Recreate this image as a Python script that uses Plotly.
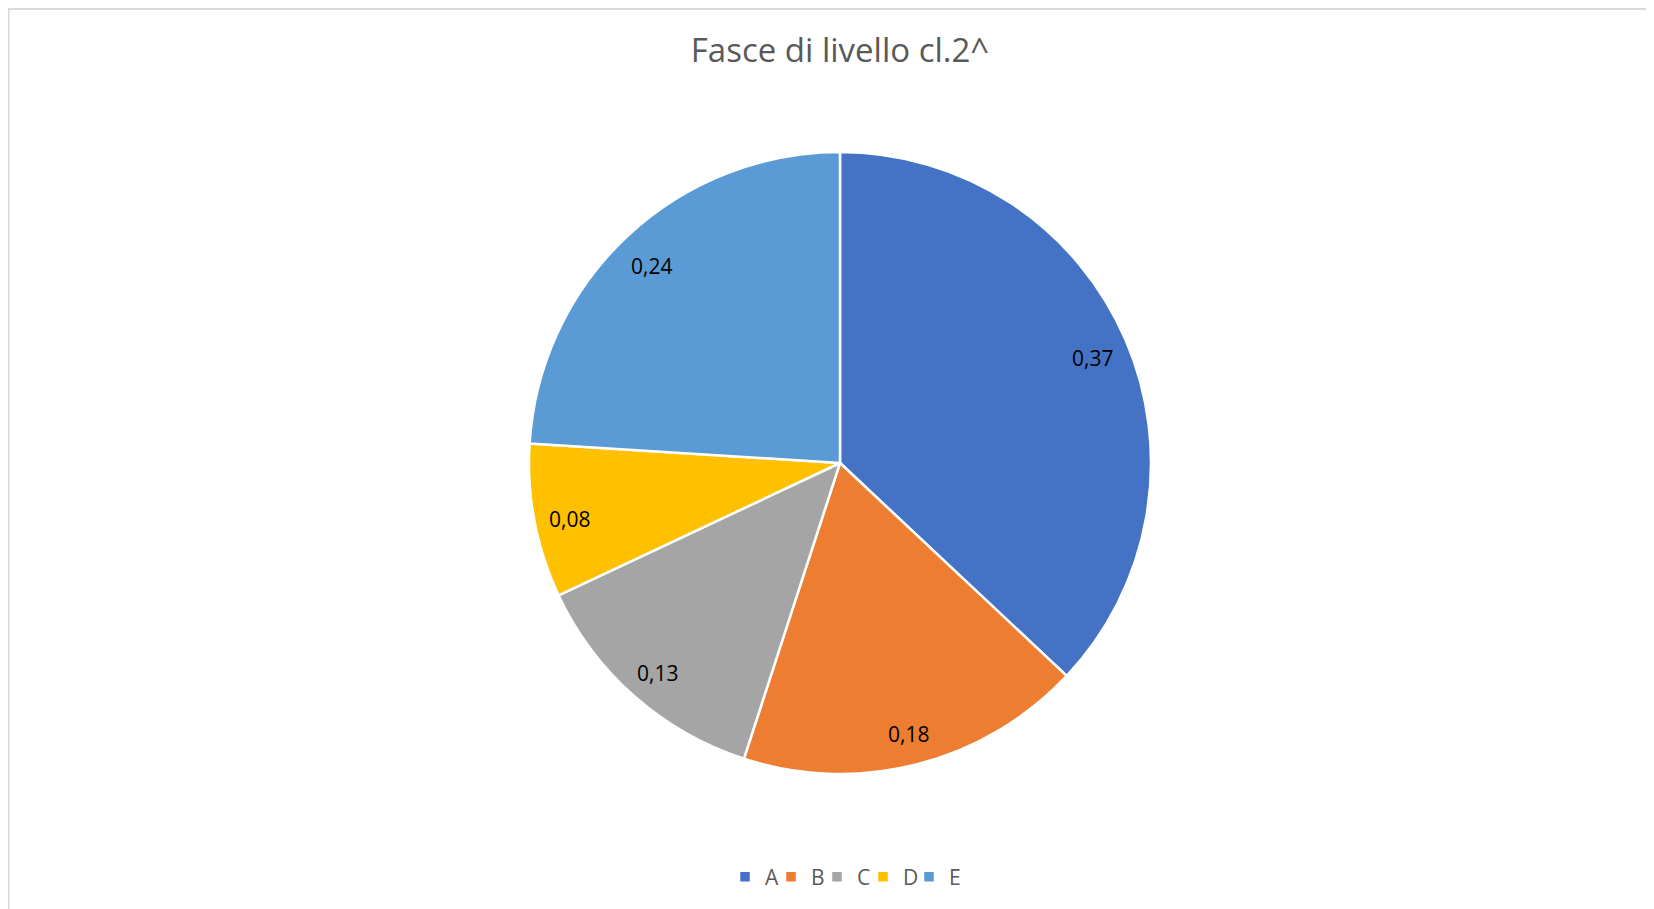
import numpy as np
import plotly.graph_objects as go

labels = ["A", "B", "C", "D", "E"]
values = [0.37, 0.18, 0.13, 0.08, 0.24]
value_text = ["0,37", "0,18", "0,13", "0,08", "0,24"]
colors = ["#4472C4", "#ED7D31", "#A5A5A5", "#FFC000", "#5B9BD5"]
title_text = "Fasce di livello cl.2^"

W, H = 1654, 909
OFF = 8  # page body margin in the browser
cx, cy, r = 840 - OFF, 463 - OFF, 311

fig = go.Figure()
fig.add_trace(go.Pie(
    labels=labels, values=values, sort=False, direction="clockwise", rotation=0,
    marker=dict(colors=colors, line=dict(color="white", width=2.5)),
    textinfo="none", hoverinfo="label+value",
    domain=dict(x=[(cx - r) / W, (cx + r) / W], y=[1 - (cy + r) / H, 1 - (cy - r) / H]),
))
# invisible (white) spacer entry so the last legend label is not clipped
fig.add_trace(go.Pie(
    labels=["\u00a0"], values=[1], textinfo="none", hoverinfo="skip",
    marker=dict(colors=["#FFFFFF"], line=dict(color="#FFFFFF", width=0)),
    domain=dict(x=[0.9, 0.9004], y=[0.5, 0.5004]),
))

# data labels placed near outer edge like Excel
tot = sum(values)
cum = np.cumsum([0] + values[:-1])
for v, c, t in zip(values, cum, value_text):
    ang = 2 * np.pi * (c + v / 2) / tot
    px = cx + 0.885 * r * np.sin(ang)
    py = cy - 0.885 * r * np.cos(ang) + 4
    fig.add_annotation(x=px / W, y=1 - py / H, xref="paper", yref="paper", text=t,
                       xanchor="center", yanchor="middle",
                       showarrow=False, font=dict(family="Open Sans", size=21, color="#000000"))

fig.add_shape(type="rect", xref="paper", yref="paper", x0=(8.5 - OFF) / W, y0=-0.05, x1=1.05,
              y1=1 - 1 / H,
              line=dict(color="#D9D9D9", width=2), fillcolor="rgba(0,0,0,0)")

fig.update_layout(
    width=W, height=H, margin=dict(l=0, r=0, t=0, b=0, autoexpand=False),
    paper_bgcolor="white", plot_bgcolor="white",
    title=dict(text=title_text, x=(840 - OFF) / W, xanchor="center", y=1 - (50 - OFF) / H, yanchor="middle",
               font=dict(family="Open Sans", size=33, color="#595959")),
    legend=dict(orientation="h", x=(840 - OFF + 23) / W, xanchor="center", y=1 - (877 - OFF) / H, yanchor="middle",
                font=dict(family="Open Sans", size=21, color="#595959"),
                bgcolor="rgba(0,0,0,0)", itemclick=False, itemdoubleclick=False,
                itemwidth=30, entrywidth=1, entrywidthmode="pixels", traceorder="normal"),
)
fig.write_html("out.html")
